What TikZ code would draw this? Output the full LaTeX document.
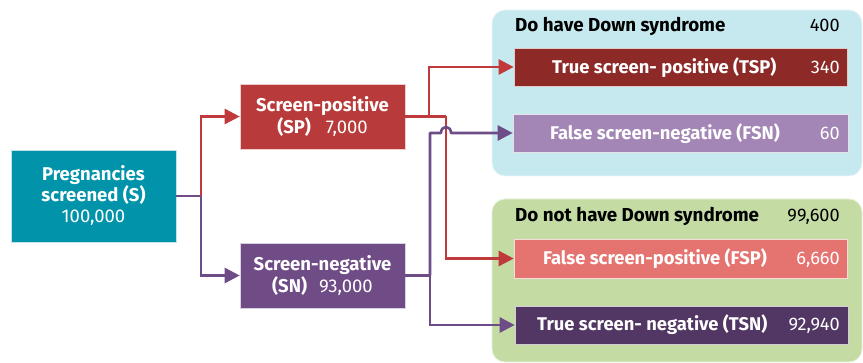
\documentclass[tikz,border=0pt]{standalone}
\usepackage{fontspec}
\setmainfont{Fira Sans}
\usetikzlibrary{arrows.meta}
\definecolor{cTeal}{HTML}{0093A9}
\definecolor{cSP}{HTML}{B93A3A}
\definecolor{cSN}{HTML}{6F4C85}
\definecolor{lRed}{HTML}{C0393B}
\definecolor{lPur}{HTML}{6E4C87}
\definecolor{cTSP}{HTML}{8D2A27}
\definecolor{cFSN}{HTML}{A386B5}
\definecolor{cFSP}{HTML}{E57471}
\definecolor{cTSN}{HTML}{523664}
\definecolor{bgBlue}{HTML}{C6E9F0}
\definecolor{bgGreen}{HTML}{C4DCA4}
\newcommand{\fsbox}{\fontsize{18.5}{21.5}\selectfont}
\newcommand{\fslbl}{\fontsize{18.4}{21}\selectfont}
\newcommand{\fsnum}{\fontsize{18.2}{20}\selectfont}
\newcommand{\fstitle}{\fontsize{18.8}{20}\selectfont}
\tikzset{
  sbox/.style={inner sep=0pt, text=white, align=center, draw=white!75!#1, line width=0.6pt, fill=#1,
    font=\fsbox},
  rbox/.style={inner sep=0pt, draw=white!75!#1, line width=0.6pt, fill=#1, minimum height=38pt},
  lbl/.style={text=white, inner sep=0pt, font=\fslbl\bfseries, anchor=base west},
  num/.style={text=white, inner sep=0pt, font=\fsnum, anchor=base east},
  conn/.style={line width=2.6pt, -{Triangle[length=15pt,width=15pt]}},
  plain/.style={line width=2.6pt},
}
\begin{document}
\begin{tikzpicture}[x=1pt,y=-1pt]
\useasboundingbox (0,0) rectangle (863,363);
% group backgrounds
\fill[bgBlue, draw=white!60!bgBlue, line width=0.8pt, rounded corners=13pt] (492,10) rectangle (862,176);
\fill[bgGreen, draw=white!60!bgGreen, line width=0.8pt, rounded corners=13pt] (492,199) rectangle (862,362);
\node[anchor=base west, inner sep=0pt, font=\fstitle\bfseries] (t1) at (515,31.5) {Do have Down syndrome};
\node[anchor=base east, inner sep=0pt, font=\fsnum] (n1) at (840,31.5) {400};
\node[anchor=base west, inner sep=0pt, font=\fstitle\bfseries] (t2) at (515,221.5) {Do not have Down syndrome};
\node[anchor=base east, inner sep=0pt, font=\fsnum] (n2) at (840,221.5) {99,600};
% left boxes
\node[sbox=cTeal, minimum width=165pt, minimum height=92pt, font=\fontsize{18.5}{21}\selectfont] (S) at (93.5,196)
  {\textbf{Pregnancies}\\\textbf{screened (S)}\\100,000};
\node[sbox=cSP, minimum width=165pt, minimum height=65pt, font=\fontsize{18.5}{22.3}\selectfont] (SP) at (322.5,116.5)
  {\textbf{Screen-positive}\\\textbf{(SP)}\hspace{15pt}7,000};
\node[sbox=cSN, minimum width=165pt, minimum height=65pt, font=\fontsize{18.5}{22}\selectfont] (SN) at (322.5,275.5)
  {\textbf{Screen-negative}\\\textbf{(SN)}\hspace{12pt}93,000};
% right boxes
\node[rbox=cTSP, minimum width=333pt] (TSP) at (680.5,67) {};
\node[rbox=cFSN, minimum width=335pt] (FSN) at (680.5,133) {};
\node[rbox=cFSP, minimum width=333pt, minimum height=39pt] (FSP) at (680.5,258.5) {};
\node[rbox=cTSN, minimum width=333pt] (TSN) at (681.5,325) {};
\node[lbl] (TSPl) at (552,74) {True screen- positive (TSP)};
\node[num] (TSPn) at (840,74) {340};
\node[lbl] (FSNl) at (550,139.5) {False screen-negative (FSN)};
\node[num] (FSNn) at (840,139.5) {60};
\node[lbl] (FSPl) at (543,265) {False screen-positive (FSP)};
\node[num] (FSPn) at (840,265) {6,660};
\node[lbl] (TSNl) at (537,330.7) {True screen- negative (TSN)};
\node[num] (TSNn) at (840,330.7) {92,940};
% junctions
\coordinate (j1) at (201,196);
\coordinate (j2) at (429,116.5);
\coordinate (j3) at (446,116.5);
\coordinate (j4) at (430,275.5);
\coordinate (j5) at (430,133);
\coordinate (h1) at (441,133);
\coordinate (h2) at (451,133);
% connectors
\draw[plain, lPur] (S.east) -- (j1);
\draw[conn, lPur] (j1) |- (SN.west);
\draw[conn, lRed] (j1) |- (SP.west);
\draw[plain, lRed] (SP.east) -- (j3);
\draw[conn, lRed] (j2) |- (TSP.west);
\draw[conn, lRed] (j3) |- (FSP.west);
\draw[plain, lPur] (SN.east) -- (j4);
\draw[conn, lPur] (j4) |- (TSN.west);
\draw[conn, lPur, line join=round] (j4) -- (j5) -- (h1) .. controls (441,125) and (451,125) .. (h2) -- (FSN.west);
\end{tikzpicture}
\end{document}
